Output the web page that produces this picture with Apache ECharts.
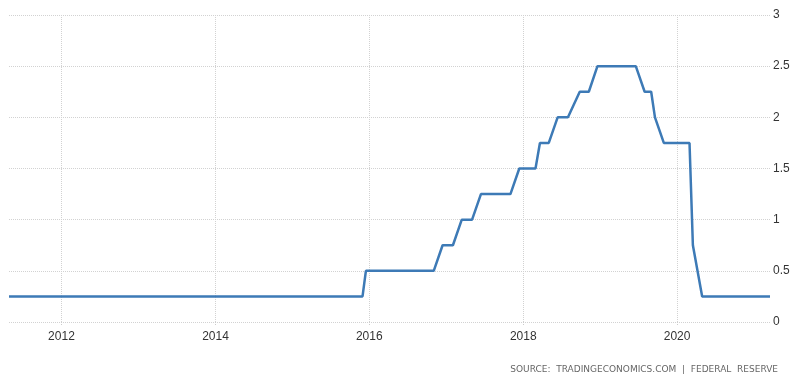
<!DOCTYPE html>
<html>
<head>
<meta charset="utf-8">
<script src="https://cdn.jsdelivr.net/npm/echarts@6/dist/echarts.min.js"></script>
<style>
html,body{margin:0;padding:0;background:#fff;}
#c{width:800px;height:382px;}
</style>
</head>
<body>
<div id="c"></div>
<script>
// Dates where the rate line turns
var dates = [
  '2011-04-27','2015-11-30','2015-12-16','2016-11-02','2016-12-14','2017-02-01',
  '2017-03-15','2017-05-03','2017-06-14','2017-11-01','2017-12-13','2018-02-28',
  '2018-03-21','2018-05-02','2018-06-13','2018-08-01','2018-09-26','2018-11-08',
  '2018-12-19','2019-06-19','2019-07-31','2019-08-31','2019-09-18','2019-10-30',
  '2020-02-29','2020-03-16','2020-04-29','2021-03-17'
];
// Interest rate values (%)
var rates = [
  0.25,0.25,0.5,0.5,0.75,0.75,
  1.0,1.0,1.25,1.25,1.5,1.5,
  1.75,1.75,2.0,2.0,2.25,2.25,
  2.5,2.5,2.25,2.25,2.0,1.75,
  1.75,0.75,0.25,0.25
];
var xTickYears = ['2012', '2014', '2016', '2018', '2020'];
var yTicks = [0, 0.5, 1, 1.5, 2, 2.5, 3];
var sourceText = 'SOURCE:  TRADINGECONOMICS.COM  |  FEDERAL  RESERVE';

function ts(s){ return new Date(s + 'T00:00:00Z').getTime(); }
var seriesData = dates.map(function(d, i){ return [ts(d), rates[i]]; });
var xTickValues = xTickYears.map(function(y){ return ts(y + '-01-01'); });

var chart = echarts.init(document.getElementById('c'), null, {renderer:'canvas'});
chart.setOption({
  animation: false,
  backgroundColor: '#ffffff',
  grid: {left: 9, right: 30, top: 15, bottom: 60},
  xAxis: {
    type: 'value',
    min: ts(dates[0]),
    max: ts(dates[dates.length-1]),
    axisLine: {show: false},
    axisTick: {show: true, length: 4, customValues: xTickValues,
               lineStyle: {color: '#cccccc', type: 'dotted'}},
    axisLabel: {
      color: '#333333', fontSize: 12, fontFamily: 'Liberation Sans, Arial, sans-serif',
      margin: 9, customValues: xTickValues,
      formatter: function(v){ return String(new Date(v).getUTCFullYear()); }
    },
    splitLine: {show: true, lineStyle: {color: '#d2d2d2', type: 'dotted', width: 1}}
  },
  yAxis: {
    type: 'value',
    position: 'right',
    min: yTicks[0],
    max: yTicks[yTicks.length-1],
    interval: 0.5,
    axisLine: {show: false},
    axisTick: {show: false},
    axisLabel: {color: '#333333', fontSize: 12, fontFamily: 'Liberation Sans, Arial, sans-serif', margin: 3},
    splitLine: {show: true, lineStyle: {color: '#d2d2d2', type: 'dotted', width: 1}}
  },
  series: [{
    type: 'line',
    data: seriesData,
    showSymbol: false,
    symbol: 'none',
    lineStyle: {color: '#3d7ab6', width: 2.5},
    itemStyle: {color: '#3d7ab6'}
  }],
  graphic: [{
    type: 'text',
    right: 22,
    top: 365,
    style: {
      text: sourceText,
      fill: '#666666',
      font: '9px "DejaVu Sans", sans-serif'
    }
  }]
});
</script>
</body>
</html>
